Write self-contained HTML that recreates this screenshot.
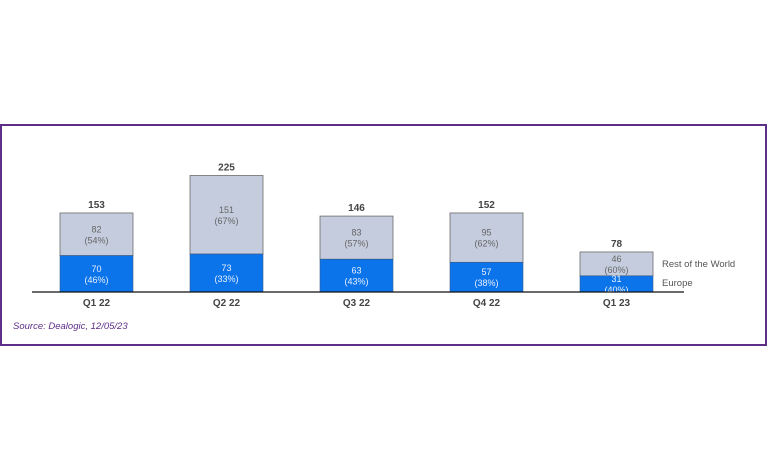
<!DOCTYPE html>
<html><head><meta charset="utf-8"><style>
html,body{margin:0;padding:0;background:#fff;}
svg{display:block;font-family:"Liberation Sans",sans-serif;}
</style></head><body>
<svg id="chart" width="768" height="471" viewBox="0 0 768 471">
<rect x="1" y="125" width="765" height="220" fill="none" stroke="#5e2f87" stroke-width="2"/>
<text x="13" y="329" font-size="9.5" font-style="italic" fill="#5e2f87">Source: Dealogic, 12/05/23</text>
</svg>
<script>
const categories = ["Q1 22","Q2 22","Q3 22","Q4 22","Q1 23"];
const europe = [70,73,63,57,31];
const europePct = ["46%","33%","43%","38%","40%"];
const rest = [82,151,83,95,46];
const restPct = ["54%","67%","57%","62%","60%"];
const totals = [153,225,146,152,78];

const svg = document.getElementById('chart');
const NS = 'http://www.w3.org/2000/svg';
const baseY = 292, unit = 0.52, x0 = 60, step = 130, bw = 73;
const yScale = v => v * unit;
const xPos = i => x0 + i * step;
function mk(tag, attrs, txt){
  const e = document.createElementNS(NS, tag);
  for (const k in attrs) e.setAttribute(k, attrs[k]);
  if (txt !== undefined) e.textContent = txt;
  svg.appendChild(e);
  return e;
}
categories.forEach((c, i) => {
  const x = xPos(i), cx = x + bw / 2;
  const he = yScale(europe[i]), hr = yScale(rest[i]);
  const eTop = baseY - he, rTop = eTop - hr;
  let r = mk('rect', {x: x, y: rTop, width: bw, height: hr, fill: '#c4ccdd', stroke: '#6b6b6b', 'stroke-width': 0.8});
  
  
  let b = mk('rect', {x: x, y: eTop, width: bw, height: he, fill: '#0b74ea', stroke: '#3a5a8a', 'stroke-width': 0.6});
  
  
  const rm = rTop + hr / 2, em = eTop + he / 2;
  let t1 = mk('text', {x: cx, y: rm - 2, 'text-anchor': 'middle', 'font-size': 9, fill: '#666'}, rest[i]);
  
  
  let t2 = mk('text', {x: cx, y: rm + 9, 'text-anchor': 'middle', 'font-size': 9, fill: '#666'}, '(' + restPct[i] + ')');
  
  
  let t3 = mk('text', {x: cx, y: em - 2, 'text-anchor': 'middle', 'font-size': 9, fill: '#e8f0ff'}, europe[i]);
  
  
  let t4 = mk('text', {x: cx, y: em + 9, 'text-anchor': 'middle', 'font-size': 9, fill: '#e8f0ff'}, '(' + europePct[i] + ')');
  
  
  let tt = mk('text', {x: cx, y: rTop - 5, 'text-anchor': 'middle', 'font-size': 10, 'font-weight': 'bold', fill: '#444'}, totals[i]);
  
  
  let cl = mk('text', {x: cx, y: 306, 'text-anchor': 'middle', 'font-size': 10, 'font-weight': 'bold', fill: '#444'}, c);
  
  
});
let ax = mk('line', {x1: 32, y1: baseY, x2: 684, y2: baseY, stroke: '#111', 'stroke-width': 1.2});


const last = categories.length - 1;
const lx = xPos(last) + bw + 9;
let l1 = mk('text', {x: lx, y: baseY - yScale(europe[last]) - yScale(rest[last]) / 2 + 3, 'font-size': 9.5, fill: '#555'}, 'Rest of the World');


let l2 = mk('text', {x: lx, y: baseY - 6, 'font-size': 9.5, fill: '#555'}, 'Europe');


</script>
</body></html>
